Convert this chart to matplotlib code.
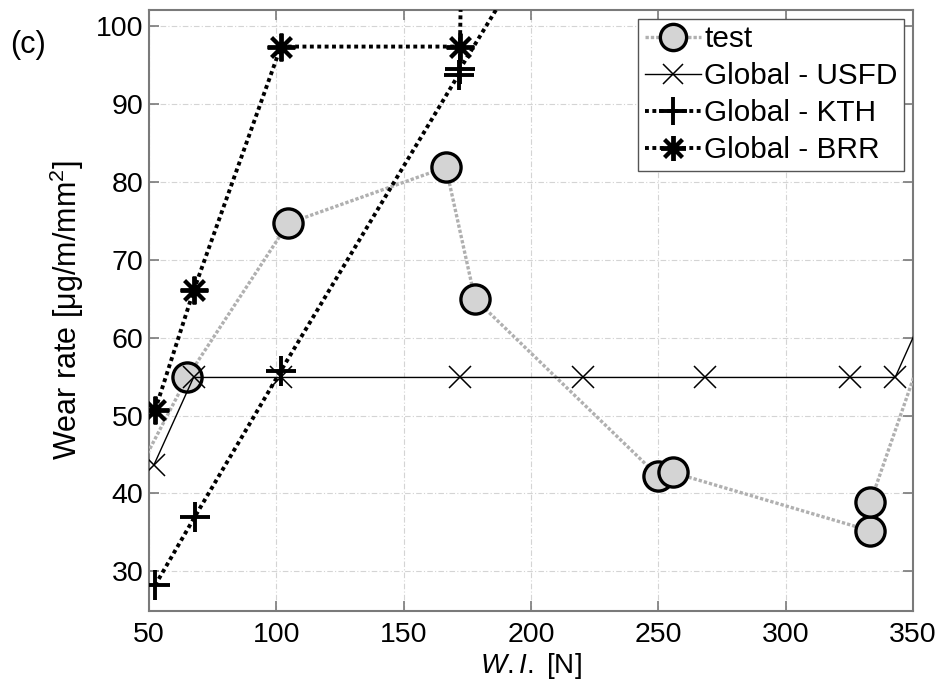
import matplotlib
matplotlib.use("Agg")
import matplotlib.pyplot as plt

plt.rcParams['font.family'] = ['Liberation Sans', 'DejaVu Sans']
plt.rcParams['mathtext.fontset'] = 'custom'
plt.rcParams['mathtext.rm'] = 'Liberation Sans'
plt.rcParams['mathtext.it'] = 'Liberation Sans:italic'

# test points (first and last lie outside the visible range)
test_x = [30, 65, 104.7, 166.6, 178, 250, 255.6, 333.3, 333.3, 370]
test_y = [33, 54.9, 74.7, 81.9, 65.0, 42.2, 42.7, 35.2, 38.9, 73.5]

usfd_x = [52, 67.5, 101.7, 172, 220.4, 268.3, 325.2, 343, 360]
usfd_y = [43.7, 54.9, 54.9, 54.9, 54.9, 54.9, 54.9, 54.9, 67.3]

kth_x = [52.4, 68, 101.7, 171.6, 172.1, 200]
kth_y = [28.2, 37.0, 55.7, 93.8, 94.5, 109.5]

brr_x = [52.4, 67.6, 101.8, 172.1, 173.1]
brr_y = [50.7, 66.1, 97.4, 97.4, 115]

fig = plt.figure(figsize=(9.41, 6.84), dpi=100)
ax = fig.add_axes([0.1583, 0.1067, 0.8119, 0.8787])

ax.plot(test_x, test_y, color='#b0b0b0', lw=2.4, ls=(0, (1, 0.6)),
        marker='o', ms=21, mfc='#d4d4d4', mec='black', mew=2.4, label='test', zorder=3)
ax.plot(usfd_x, usfd_y, color='black', lw=1.0, ls='-',
        marker='x', ms=16, mew=1.1, label='Global - USFD', zorder=4)
ax.plot(kth_x, kth_y, color='black', lw=2.8, ls=(0, (1, 0.9)),
        marker='+', ms=22, mew=2.8, label='Global - KTH', zorder=4)
ax.plot(brr_x, brr_y, color='black', lw=2.8, ls=(0, (1, 0.9)),
        marker=(8, 2, 0), ms=20, mew=2.8, label='Global - BRR', zorder=4)

ax.set_xlim(50, 350)
ax.set_ylim(24.9, 102.1)
ax.set_xticks([50, 100, 150, 200, 250, 300, 350])
ax.set_yticks([30, 40, 50, 60, 70, 80, 90, 100])
ax.grid(True, color='#d4d4d4', ls=(0, (5, 2, 1, 2)), lw=0.8)
ax.set_axisbelow(True)

for s in ax.spines.values():
    s.set_color('#7a7a7a')
    s.set_linewidth(1.5)
ax.tick_params(direction='in', length=7, width=1.2, color='#7a7a7a',
               top=True, right=True, labelsize=20.5)
ax.tick_params(axis='x', pad=8)
ax.tick_params(axis='y', pad=4)

ax.set_xlabel(r'$\mathit{W.I.}$ [N]', fontsize=20, labelpad=2)
ax.set_ylabel(r'Wear rate [$\mathrm{\mu}$g/m/mm$^2$]', fontsize=22, labelpad=7)

leg = ax.legend(loc='upper right', fontsize=21.4, fancybox=False, framealpha=1,
                edgecolor='#555555', borderaxespad=0.3, handlelength=1.9,
                handletextpad=0.1, borderpad=0.22, labelspacing=0.3, markerscale=0.9)
leg.get_frame().set_linewidth(1.0)

fig.text(0.011, 0.934, '(c)', fontsize=22, va='center', ha='left')

fig.savefig('out.png', dpi=100)
